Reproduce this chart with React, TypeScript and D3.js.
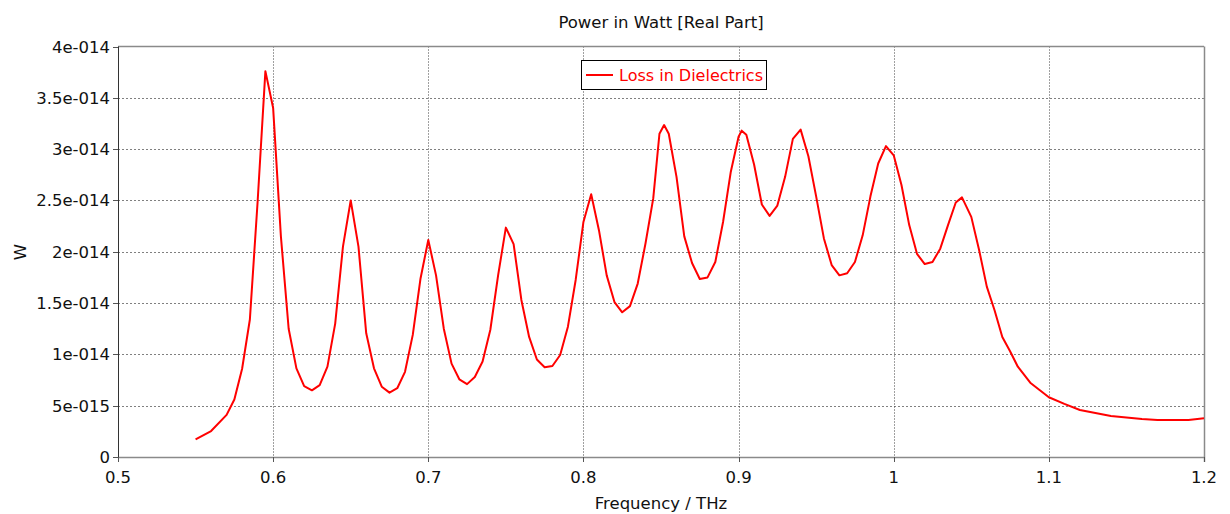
import React from "react";
import * as d3 from "d3";

// Frequency samples (THz) of the simulated dielectric loss
const freqTHz: number[] = [
  0.55, 0.56, 0.57, 0.575, 0.58, 0.585, 0.59, 0.595, 0.6, 0.605, 0.61, 0.615,
  0.62, 0.625, 0.63, 0.635, 0.64, 0.645, 0.65, 0.655, 0.66, 0.665,
  0.67, 0.675, 0.68, 0.685, 0.69, 0.695, 0.7, 0.705, 0.71, 0.715,
  0.72, 0.725, 0.73, 0.735, 0.74, 0.745, 0.75, 0.755, 0.76, 0.765,
  0.77, 0.775, 0.78, 0.785, 0.79, 0.795, 0.8, 0.805, 0.81, 0.815,
  0.82, 0.825, 0.83, 0.835, 0.84, 0.845, 0.849, 0.852, 0.855,
  0.86, 0.865, 0.87, 0.875, 0.88, 0.885, 0.89, 0.895, 0.9, 0.902, 0.905,
  0.91, 0.915, 0.92, 0.925, 0.93, 0.935, 0.94, 0.945, 0.95, 0.955,
  0.96, 0.965, 0.97, 0.975, 0.98, 0.985, 0.99, 0.995, 1.0, 1.005,
  1.01, 1.015, 1.02, 1.025, 1.03, 1.035, 1.04, 1.044,
  1.05, 1.055, 1.06, 1.065, 1.07, 1.075, 1.08,
  1.088, 1.094, 1.1, 1.11, 1.12, 1.14, 1.16, 1.17, 1.19, 1.2,
];

// Real part of the power lost in dielectrics (W)
const lossW: number[] = [
  1.72e-15, 2.53e-15, 4.1e-15, 5.6e-15, 8.6e-15, 13.4e-15, 24.9e-15, 37.6e-15, 34.0e-15, 21.5e-15, 12.5e-15, 8.64e-15,
  6.9e-15, 6.5e-15, 7.0e-15, 8.8e-15, 13.0e-15, 20.5e-15, 25.0e-15, 20.5e-15, 12.05e-15, 8.64e-15,
  6.85e-15, 6.27e-15, 6.7e-15, 8.3e-15, 11.9e-15, 17.4e-15, 21.15e-15, 17.7e-15, 12.5e-15, 9.1e-15,
  7.57e-15, 7.1e-15, 7.8e-15, 9.3e-15, 12.4e-15, 17.7e-15, 22.35e-15, 20.75e-15, 15.3e-15, 11.7e-15,
  9.5e-15, 8.74e-15, 8.87e-15, 9.94e-15, 12.7e-15, 17.25e-15, 22.9e-15, 25.6e-15, 22.1e-15, 17.7e-15,
  15.1e-15, 14.1e-15, 14.7e-15, 16.9e-15, 20.8e-15, 25.2e-15, 31.5e-15, 32.35e-15, 31.5e-15,
  27.3e-15, 21.5e-15, 18.9e-15, 17.35e-15, 17.5e-15, 19.0e-15, 22.9e-15, 27.8e-15, 31.2e-15, 31.8e-15, 31.4e-15,
  28.5e-15, 24.6e-15, 23.5e-15, 24.5e-15, 27.3e-15, 31.0e-15, 31.9e-15, 29.3e-15, 25.4e-15, 21.3e-15,
  18.7e-15, 17.7e-15, 17.9e-15, 19.0e-15, 21.6e-15, 25.4e-15, 28.6e-15, 30.3e-15, 29.4e-15, 26.5e-15,
  22.6e-15, 19.8e-15, 18.8e-15, 19.0e-15, 20.3e-15, 22.6e-15, 24.8e-15, 25.3e-15,
  23.4e-15, 20.2e-15, 16.6e-15, 14.3e-15, 11.7e-15, 10.3e-15, 8.8e-15,
  7.24e-15, 6.53e-15, 5.82e-15, 5.17e-15, 4.58e-15, 4.0e-15, 3.7e-15, 3.6e-15, 3.6e-15, 3.77e-15,
];

const xTicks: number[] = [0.5, 0.6, 0.7, 0.8, 0.9, 1.0, 1.1, 1.2];
const xTickLabels: string[] = ["0.5", "0.6", "0.7", "0.8", "0.9", "1", "1.1", "1.2"];
const yTicks: number[] = [0, 5e-15, 1e-14, 1.5e-14, 2e-14, 2.5e-14, 3e-14, 3.5e-14, 4e-14];
const yTickLabels: string[] = ["0", "5e-015", "1e-014", "1.5e-014", "2e-014", "2.5e-014", "3e-014", "3.5e-014", "4e-014"];

const seriesName = "Loss in Dielectrics";
const chartTitle = "Power in Watt [Real Part]";
const xTitle = "Frequency / THz";
const yTitle = "W";

const W = 1230;
const H = 514;
const plot = { left: 118, right: 1204, top: 46.5, bottom: 457 };
const FONT = "'DejaVu Sans', sans-serif";
const FS = 16.5;
const LEGEND_FS = 16;

export default function App() {
  const x = d3.scaleLinear().domain([0.5, 1.2]).range([plot.left, plot.right]);
  const y = d3.scaleLinear().domain([0, 4e-14]).range([plot.bottom, plot.top]);

  const points: [number, number][] = freqTHz.map((f, i) => [f, lossW[i]]);
  const line = d3
    .line<[number, number]>()
    .x((d) => x(d[0]))
    .y((d) => y(d[1]));

  const legendX = 581;
  const legendY = 60;

  return (
    <svg
      width={W}
      height={H}
      style={{ position: "absolute", left: 0, top: 0, background: "#fff" }}
      fontFamily={FONT}
    >
      <rect x={0} y={0} width={W} height={H} fill="#fff" />

      {/* grid */}
      {yTicks.slice(1, -1).map((t) => (
        <line
          key={"gy" + t}
          x1={plot.left}
          x2={plot.right}
          y1={Math.round(y(t)) + 0.5}
          y2={Math.round(y(t)) + 0.5}
          stroke="#808080"
          strokeDasharray="2,2"
        />
      ))}
      {xTicks.slice(1, -1).map((t) => (
        <line
          key={"gx" + t}
          x1={Math.round(x(t)) + 0.5}
          x2={Math.round(x(t)) + 0.5}
          y1={plot.top}
          y2={plot.bottom}
          stroke="#404040"
          strokeDasharray="1,2"
        />
      ))}

      {/* frame */}
      <line x1={plot.left} x2={plot.right} y1={plot.top} y2={plot.top} stroke="#8a8a8a" strokeWidth={1.5} />
      <line x1={plot.right + 0.5} x2={plot.right + 0.5} y1={plot.top} y2={plot.bottom + 5} stroke="#8a8a8a" strokeWidth={1.5} />
      <line x1={plot.left} x2={plot.right} y1={plot.bottom + 0.5} y2={plot.bottom + 0.5} stroke="#8a8a8a" strokeWidth={1.5} />
      <line x1={plot.left + 0.5} x2={plot.left + 0.5} y1={plot.top} y2={plot.bottom} stroke="#333" strokeWidth={1} />

      {/* y ticks */}
      {yTicks.map((t, i) => (
        <g key={"yt" + t}>
          <line
            x1={plot.left - 5}
            x2={plot.left}
            y1={Math.round(y(t)) + 0.5}
            y2={Math.round(y(t)) + 0.5}
            stroke="#555"
          />
          <text x={plot.left - 8} y={y(t) + 6} textAnchor="end" fontSize={FS} fill="#111">
            {yTickLabels[i]}
          </text>
        </g>
      ))}

      {/* x ticks */}
      {xTicks.map((t, i) => (
        <g key={"xt" + t}>
          <line
            x1={Math.round(x(t)) + 0.5}
            x2={Math.round(x(t)) + 0.5}
            y1={plot.bottom}
            y2={plot.bottom + 5}
            stroke="#555"
          />
          <text x={x(t)} y={483} textAnchor="middle" fontSize={FS} fill="#111">
            {xTickLabels[i]}
          </text>
        </g>
      ))}

      {/* series */}
      <path d={line(points) || ""} fill="none" stroke="#ff0000" strokeWidth={2} strokeLinejoin="round" />

      {/* legend */}
      <rect x={legendX + 0.5} y={legendY + 0.5} width={185} height={29} fill="#fff" stroke="#000" />
      <line x1={legendX + 5} x2={legendX + 32} y1={legendY + 15} y2={legendY + 15} stroke="#ff0000" strokeWidth={2} />
      <text x={legendX + 38} y={legendY + 21} fontSize={LEGEND_FS} fill="#ff0000">
        {seriesName}
      </text>

      {/* titles */}
      <text x={661} y={28} textAnchor="middle" fontSize={FS} fill="#111">
        {chartTitle}
      </text>
      <text x={661} y={509} textAnchor="middle" fontSize={FS} fill="#111">
        {xTitle}
      </text>
      <text x={26} y={252} textAnchor="middle" fontSize={FS} fill="#111" transform="rotate(-90 26 252)">
        {yTitle}
      </text>
    </svg>
  );
}
